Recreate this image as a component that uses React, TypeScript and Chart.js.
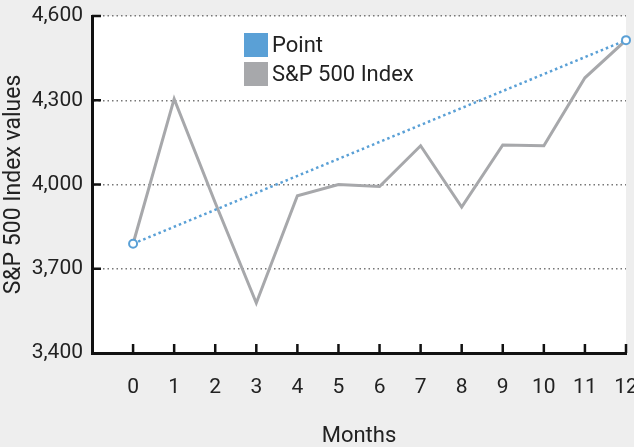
import React, { useEffect, useRef } from "react";
import { Chart, registerables } from "chart.js";

Chart.register(...registerables);

// ---- data ----
const months = [0, 1, 2, 3, 4, 5, 6, 7, 8, 9, 10, 11, 12];
const spValues = [3789, 4305, 3935, 3578, 3960, 4000, 3993, 4138, 3920, 4141, 4138, 4380, 4514];
const pointMonths = [0, 12];
const pointValues = [3789, 4514];
const yTickValues = [3400, 3700, 4000, 4300, 4600];
const seriesLabels = ["Point", "S&P 500 Index"];
const xTitle = "Months";
const yTitle = "S&P 500 Index values";

// ---- style ----
const W = 634;
const H = 447;
const BG = "#eeeeee";
const BLUE = "#5aa0d6";
const GRAY = "#a7a8ab";
const TEXT = "#222222";
const FONT = "Roboto";

const bgPlugin = {
  id: "bgPlugin",
  beforeDraw(chart: any) {
    const { ctx, chartArea } = chart;
    ctx.save();
    ctx.fillStyle = BG;
    ctx.fillRect(0, 0, chart.width, chart.height);
    ctx.fillStyle = "#ffffff";
    ctx.fillRect(chartArea.left, chartArea.top, chartArea.right - chartArea.left, chartArea.bottom - chartArea.top);
    ctx.restore();
  },
};

const inwardTicks = {
  id: "inwardTicks",
  afterDraw(chart: any) {
    const { ctx, chartArea } = chart;
    const xs = chart.scales.x;
    const ys = chart.scales.y;
    const len = 9;
    ctx.save();
    ctx.strokeStyle = "#111111";
    ctx.lineWidth = 2.5;
    ctx.beginPath();
    xs.ticks.forEach((t: any) => {
      if (t.value < 0) return;
      const px = xs.getPixelForValue(t.value);
      ctx.moveTo(px, chartArea.bottom);
      ctx.lineTo(px, chartArea.bottom - len);
    });
    ys.ticks.forEach((t: any) => {
      if (t.value <= ys.min) return;
      const py = ys.getPixelForValue(t.value);
      ctx.moveTo(chartArea.left, py);
      ctx.lineTo(chartArea.left + len, py);
    });
    ctx.stroke();
    ctx.restore();
  },
};

const boxLegend = {
  id: "boxLegend",
  afterDraw(chart: any) {
    const { ctx, chartArea } = chart;
    const x0 = chartArea.left + 152;
    const y0 = chartArea.top + 17;
    const box = 24;
    const row = 29;
    ctx.save();
    ctx.font = `22px ${FONT}`;
    ctx.textBaseline = "middle";
    ctx.textAlign = "left";
    chart.data.datasets.forEach((ds: any, i: number) => {
      const y = y0 + i * row;
      ctx.fillStyle = ds.legendColor;
      ctx.fillRect(x0, y, box, box);
      ctx.fillStyle = TEXT;
      ctx.fillText(ds.label, x0 + box + 4, y + box / 2 + 1);
    });
    ctx.restore();
  },
};

export default function App() {
  const ref = useRef<HTMLCanvasElement | null>(null);

  useEffect(() => {
    document.body.style.margin = "0";
    const canvas = ref.current;
    if (!canvas) return;
    const chart = new Chart(canvas, {
      type: "line",
      data: {
        datasets: [
          {
            label: seriesLabels[0],
            data: pointMonths.map((m, i) => ({ x: m, y: pointValues[i] })),
            borderColor: BLUE,
            borderWidth: 2.5,
            borderDash: [2.5, 3],
            pointRadius: 4,
            pointBorderWidth: 2,
            pointBorderColor: BLUE,
            pointBackgroundColor: "#ffffff",
            clip: false,
            legendColor: BLUE,
          } as any,
          {
            label: seriesLabels[1],
            data: months.map((m, i) => ({ x: m, y: spValues[i] })),
            borderColor: GRAY,
            borderWidth: 3,
            borderJoinStyle: "miter",
            pointRadius: 0,
            tension: 0,
            legendColor: GRAY,
          } as any,
        ],
      },
      options: {
        responsive: false,
        animation: false,
        devicePixelRatio: 1,
        events: [],
        layout: { padding: { top: 16, right: 8, left: 0, bottom: 0 } },
        plugins: {
          legend: { display: false },
          tooltip: { enabled: false },
        },
        scales: {
          x: {
            type: "linear",
            min: -1,
            max: 12,
            afterFit(scale: any) {
              scale.height = 94;
              scale.paddingLeft = 0;
              scale.paddingRight = 0;
            },
            ticks: {
              stepSize: 1,
              autoSkip: false,
              maxRotation: 0,
              padding: 22,
              color: TEXT,
              font: { family: FONT, size: 21 },
              callback: (v: any) => (v < 0 ? "" : String(v)),
            },
            grid: { display: true, drawOnChartArea: false, drawTicks: false },
            border: { display: true, color: "#111111", width: 3 },
            title: {
              display: true,
              text: xTitle,
              color: TEXT,
              font: { family: FONT, size: 22, lineHeight: 1 },
              padding: { top: 0, bottom: 0 },
            },
          },
          y: {
            type: "linear",
            min: yTickValues[0],
            max: yTickValues[yTickValues.length - 1],
            afterFit(scale: any) {
              scale.width = 92;
              scale.paddingTop = 0;
              scale.paddingBottom = 0;
            },
            afterBuildTicks(scale: any) {
              scale.ticks = yTickValues.map((v) => ({ value: v }));
            },
            ticks: {
              padding: 9,
              color: TEXT,
              font: { family: FONT, size: 21 },
              callback: (v: any) => Number(v).toLocaleString("en-US"),
            },
            grid: { display: true, drawTicks: false, color: "#777777", lineWidth: 1.5 },
            border: { display: true, color: "#111111", width: 3, dash: [1.5, 3] },
            title: {
              display: true,
              text: yTitle,
              color: TEXT,
              font: { family: FONT, size: 23, lineHeight: 1 },
              padding: { top: 3, bottom: 0 },
            },
          },
        },
      },
      plugins: [bgPlugin, inwardTicks, boxLegend],
    });
    return () => chart.destroy();
  }, []);

  return (
    <div style={{ width: W, height: H, background: BG }}>
      <canvas ref={ref} width={W} height={H} style={{ display: "block" }} />
    </div>
  );
}
